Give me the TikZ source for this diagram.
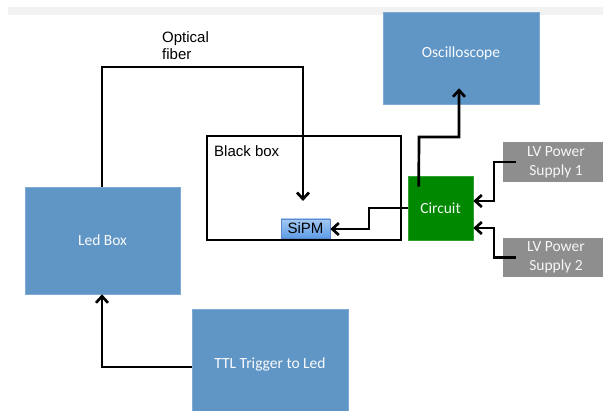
\documentclass[tikz,border=0pt]{standalone}
\usepackage{fontspec}
\setmainfont{Liberation Sans}
\newfontfamily\carlito{Carlito}
\usetikzlibrary{arrows.meta,calc}
\definecolor{boxblue}{HTML}{6096C5}
\definecolor{boxedge}{HTML}{7EAAD4}
\definecolor{circgreen}{HTML}{008800}
\definecolor{lvgray}{HTML}{8E8E8E}
\definecolor{bandgray}{HTML}{F2F2F2}
\definecolor{sipmtop}{HTML}{A4C8F2}
\definecolor{sipmbot}{HTML}{5E9CE6}
\definecolor{sipmedge}{HTML}{5A8ACB}
\begin{document}
\begin{tikzpicture}[x=1pt,y=-1pt,
  bluebox/.style={fill=boxblue, draw=boxedge, line width=0.6pt, inner sep=0pt,
    font=\carlito\fontsize{15.5}{18}\selectfont, text=white!96!boxblue},
  boxtext/.style={inner sep=0pt, font=\carlito\fontsize{15.5}{18}\selectfont, text=white!96!boxblue},
  greenbox/.style={fill=circgreen, draw=circgreen!80!white, line width=0.6pt, inner sep=0pt,
    font=\carlito\fontsize{15.5}{18}\selectfont, text=white!95!circgreen},
  graybox/.style={fill=lvgray, inner sep=0pt, align=center,
    font=\carlito\fontsize{15.5}{19}\selectfont, text=white!92!lvgray},
  sipmbox/.style={top color=sipmtop, bottom color=sipmbot, draw=sipmedge, line width=0.6pt,
    inner sep=0pt, font=\fontsize{15}{17}\selectfont},
  frame/.style={draw=black, line width=2.4pt, inner sep=0pt},
  plain/.style={inner sep=0pt, font=\fontsize{15}{17}\selectfont, align=left},
  conn/.style={line width=2.7pt, line join=miter,
    -{Straight Barb[length=6.5pt,width=12pt]}}
]
\useasboundingbox (0,0) rectangle (603,411);
\fill[bandgray] (8,7) rectangle (603,15);

% boxes
\node[bluebox, minimum width=156pt, minimum height=92pt] (osc) at (461,58) {};
\node[boxtext] (osct) at (461,53) {Oscilloscope};
\node[bluebox, minimum width=155pt, minimum height=107pt] (led) at (102.5,240.5) {Led Box};
\node[bluebox, minimum width=156pt, minimum height=110pt] (ttl) at (270,364) {TTL Trigger to Led};
\node[frame, minimum width=194pt, minimum height=104pt] (bb) at (304,188) {};
\node[plain, anchor=west] (bbt) at (214,151) {Black box};
\node[sipmbox, minimum width=49pt, minimum height=19pt] (sipm) at (305.5,228.5) {SiPM};
\node[greenbox, minimum width=65pt, minimum height=64pt] (circ) at (440.5,208) {Circuit};
\node[graybox, minimum width=106pt, minimum height=40pt] (lv1) at (556,162) {LV Power\\Supply 1};
\node[graybox, minimum width=106pt, minimum height=39pt] (lv2) at (556,257.5) {LV Power\\Supply 2};
\node[plain, anchor=north west] (fib) at (162,31) {Optical\\fiber};

% connectors
\coordinate (fibend) at (303,201);
\draw[conn] (led.north -| 102,0) -- (102,67) -- (303,67) -- (fibend);
\draw[conn] (ttl.west |- 0,367) -- (102,367) -- (led.south -| 102,0);
\draw[conn] ($(circ.north west)+(11,11)$) -- (419,137) -- (459,137) -- ($(osc.south)+(-2,-16)$);
\draw[conn] (circ.west) -- (369,208) -- (369,229) -- (sipm.east |- 0,229);
\draw[conn] ($(lv1.west)+(13,0)$) -- (494,162) -- (494,201) -- (circ.east |- 0,201);
\draw[conn] ($(lv2.west)+(13,0)$) -- (494,257.5) -- (494,228) -- (circ.east |- 0,228);
\end{tikzpicture}
\end{document}
